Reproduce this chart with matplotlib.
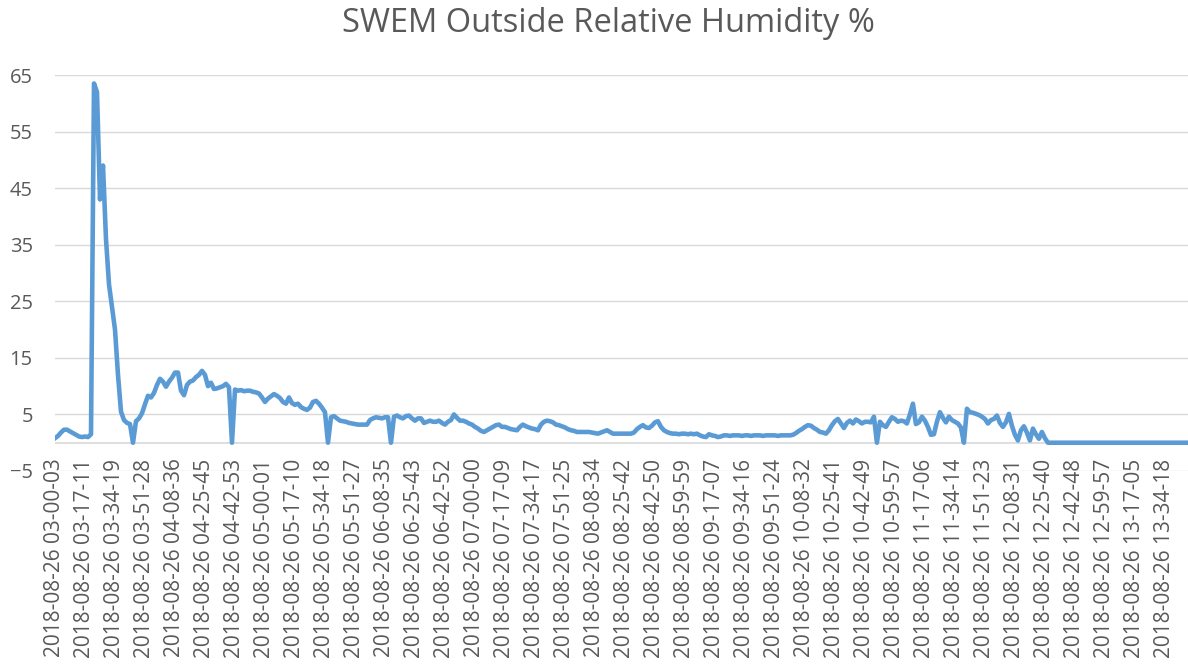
import matplotlib.pyplot as plt

# RELATIVE HUMIDITY READINGS (%), ONE PER SAMPLE
humidity = [
    0.8, 1.2, 1.8, 2.3, 2.3, 2.0, 1.7, 1.4, 1.1, 1.0,
    1.1, 1.0, 1.5, 63.5, 62.0, 43.0, 49.0, 36.0, 28.0, 24.0,
    20.0, 12.0, 5.5, 4.0, 3.5, 3.3, 0.0, 3.8, 4.3, 5.2,
    6.8, 8.3, 8.0, 8.8, 10.2, 11.3, 10.8, 9.9, 10.8, 11.5,
    12.4, 12.4, 9.2, 8.4, 10.2, 10.8, 11.0, 11.6, 12.0, 12.7,
    12.0, 10.0, 10.6, 9.5, 9.6, 9.8, 10.0, 10.4, 9.8, 0.0,
    9.4, 9.2, 9.3, 9.1, 9.2, 9.2, 9.0, 8.9, 8.7, 8.0,
    7.2, 7.8, 8.2, 8.6, 8.3, 7.9, 7.2, 6.9, 8.0, 7.0,
    6.7, 6.9, 6.3, 6.0, 5.8, 6.2, 7.2, 7.4, 6.9, 6.2,
    5.4, 0.0, 4.5, 4.7, 4.3, 3.9, 3.8, 3.7, 3.5, 3.4,
    3.3, 3.2, 3.2, 3.2, 3.2, 4.0, 4.3, 4.5, 4.4, 4.3,
    4.5, 4.5, 0.0, 4.6, 4.8, 4.5, 4.3, 4.7, 4.8, 4.3,
    3.9, 4.3, 4.3, 3.5, 3.7, 3.9, 3.7, 3.7, 3.9, 3.5,
    3.2, 3.7, 4.0, 5.0, 4.4, 3.9, 3.9, 3.7, 3.4, 3.2,
    2.8, 2.5, 2.1, 1.9, 2.2, 2.5, 2.8, 3.1, 3.2, 2.8,
    2.8, 2.6, 2.4, 2.3, 2.2, 2.8, 3.2, 2.9, 2.7, 2.5,
    2.4, 2.2, 3.2, 3.7, 3.9, 3.8, 3.6, 3.2, 3.1, 2.9,
    2.7, 2.4, 2.2, 2.1, 1.9, 1.9, 1.9, 1.9, 1.9, 1.8,
    1.7, 1.6, 1.8, 2.0, 2.2, 1.9, 1.6, 1.6, 1.6, 1.6,
    1.6, 1.6, 1.6, 1.8, 2.4, 2.8, 3.1, 2.7, 2.6, 3.0,
    3.6, 3.8, 2.8, 2.2, 1.9, 1.7, 1.6, 1.6, 1.5, 1.6,
    1.6, 1.5, 1.6, 1.5, 1.6, 1.3, 1.1, 1.0, 1.5, 1.3,
    1.2, 1.0, 1.1, 1.3, 1.3, 1.2, 1.3, 1.3, 1.3, 1.2,
    1.3, 1.3, 1.2, 1.3, 1.3, 1.3, 1.2, 1.3, 1.3, 1.3,
    1.3, 1.2, 1.3, 1.3, 1.3, 1.3, 1.4, 1.7, 2.1, 2.4,
    2.8, 3.1, 3.0, 2.6, 2.3, 1.9, 1.8, 1.6, 2.2, 3.1,
    3.8, 4.2, 3.4, 2.6, 3.5, 3.9, 3.4, 4.1, 3.8, 3.4,
    3.7, 3.7, 3.6, 4.6, 0.0, 3.7, 3.1, 2.8, 3.7, 4.5,
    4.2, 3.7, 3.9, 3.8, 3.4, 5.0, 6.9, 3.3, 3.6, 4.6,
    3.9, 2.8, 1.4, 1.5, 3.7, 5.4, 4.4, 3.6, 4.6, 4.0,
    3.7, 3.4, 2.7, 0.0, 6.0, 5.4, 5.3, 5.1, 4.9, 4.6,
    4.2, 3.4, 4.0, 4.2, 4.8, 3.5, 2.8, 3.6, 5.1, 3.0,
    1.4, 0.4, 2.2, 2.9, 1.8, 0.4, 2.5, 1.5, 0.7, 1.9,
    0.8, 0.0, 0.0, 0.0, 0.0, 0.0, 0.0, 0.0, 0.0, 0.0,
    0.0, 0.0, 0.0, 0.0, 0.0, 0.0, 0.0, 0.0, 0.0, 0.0,
    0.0, 0.0, 0.0, 0.0, 0.0, 0.0, 0.0, 0.0, 0.0, 0.0,
    0.0, 0.0, 0.0, 0.0, 0.0, 0.0, 0.0, 0.0, 0.0, 0.0,
    0.0, 0.0, 0.0, 0.0, 0.0, 0.0, 0.0, 0.0, 0.0,
]

# TIMESTAMPS SHOWN ON THE CATEGORY AXIS (EVERY 10TH SAMPLE)
time_labels = [
    "03-00-03", "03-17-11", "03-34-19", "03-51-28", "04-08-36",
    "04-25-45", "04-42-53", "05-00-01", "05-17-10", "05-34-18",
    "05-51-27", "06-08-35", "06-25-43", "06-42-52", "07-00-00",
    "07-17-09", "07-34-17", "07-51-25", "08-08-34", "08-25-42",
    "08-42-50", "08-59-59", "09-17-07", "09-34-16", "09-51-24",
    "10-08-32", "10-25-41", "10-42-49", "10-59-57", "11-17-06",
    "11-34-14", "11-51-23", "12-08-31", "12-25-40", "12-42-48",
    "12-59-57", "13-17-05", "13-34-18",
]
label_step = 10
y_ticks = [-5, 5, 15, 25, 35, 45, 55, 65]

plt.rcParams['font.family'] = ['Open Sans', 'DejaVu Sans']
text_col = '#595959'
grid_col = '#D9D9D9'

fig = plt.figure(figsize=(11.88, 6.68), dpi=100)
ax = fig.add_axes([55 / 1188, 1 - 471 / 668, 1 - 55 / 1188, 396 / 668])

# PLOTTING THE SERIES
ax.plot(range(len(humidity)), humidity, c='#5B9BD5', lw=3.3,
        solid_joinstyle='round', zorder=3)

ax.set_xlim(0, 377.7)
ax.set_ylim(-5, 65)
ax.set_yticks(y_ticks)
ax.grid(axis='y', color=grid_col, lw=1)
ax.axhline(0, color=grid_col, lw=1.2, zorder=2)
for s in ax.spines.values():
    s.set_visible(False)

ax.set_xticks(range(0, label_step * len(time_labels), label_step))
ax.set_xticklabels(["2018-08-26 " + t for t in time_labels], rotation=90,
                   va='top', ha='center')
ax.tick_params(axis='x', length=0, pad=-9, labelsize=15, labelcolor=text_col)
ax.tick_params(axis='y', length=0, pad=16, labelsize=14.5, labelcolor=text_col)

fig.text(608 / 1188, 1 - 23 / 668, "SWEM Outside Relative Humidity %",
         ha='center', va='center', fontsize=23.5, color=text_col)

plt.savefig("out.png", dpi=100)
